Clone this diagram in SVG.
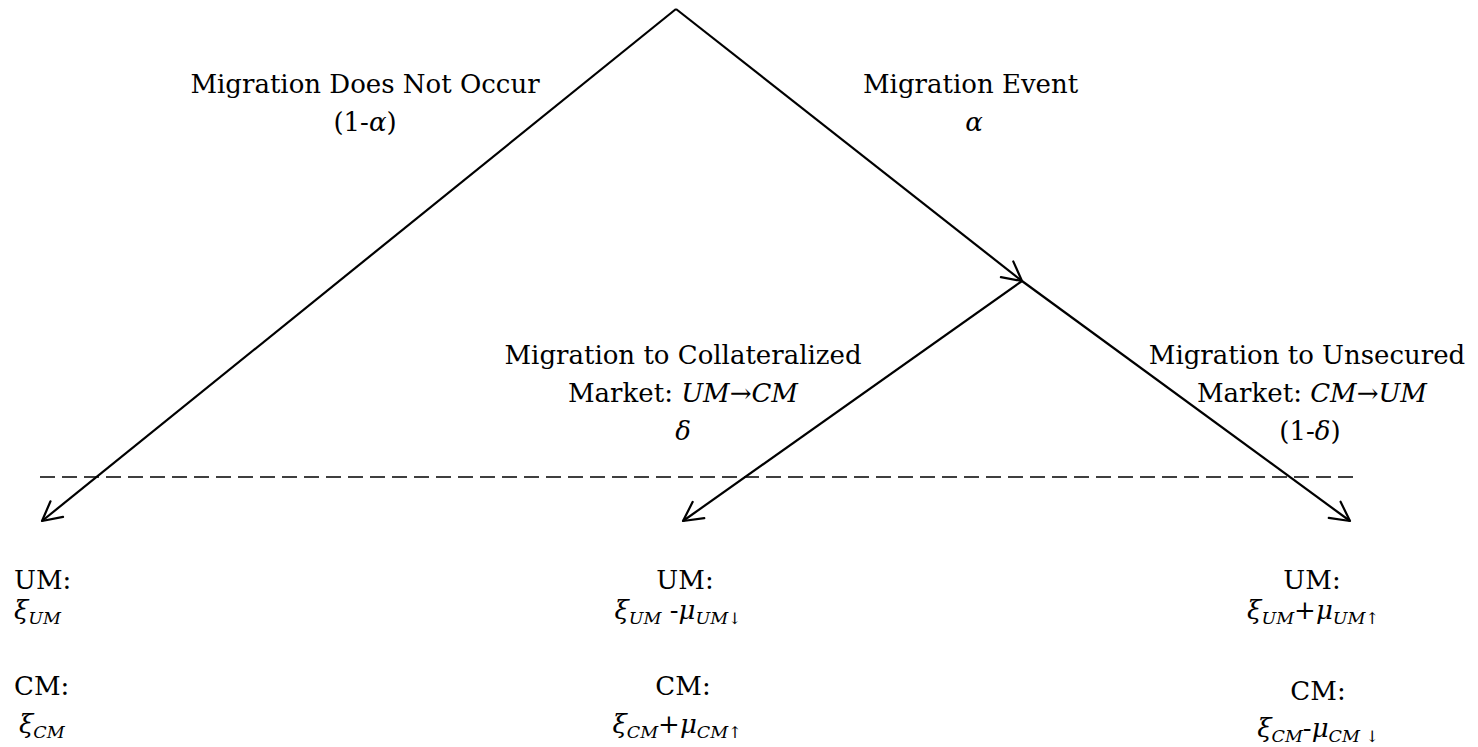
<svg xmlns="http://www.w3.org/2000/svg" width="1478" height="747" viewBox="0 0 1478 747">
<style>
text{font-family:"DejaVu Serif","Liberation Serif",serif;font-size:26px;fill:#000}
.i{font-style:italic}
.s{font-style:italic;font-size:17.5px}
.ar{font-size:16px;font-style:normal}
.ln{stroke:#000;stroke-width:2.2;fill:none;marker-end:url(#ah)}
.dash{stroke:#000;stroke-width:1.7;stroke-dasharray:15 7;fill:none}
</style>
<defs>
<marker id="ah" markerUnits="userSpaceOnUse" markerWidth="40" markerHeight="40" viewBox="-30 -20 40 40" refX="0" refY="0" orient="auto" overflow="visible">
<path d="M-19,-10 L0,0 L-19,10" fill="none" stroke="#000" stroke-width="2.2" stroke-linecap="round" stroke-linejoin="round"/>
</marker>
</defs>
<rect width="1478" height="747" fill="#fff"/>
<g id="connectors">
<line class="ln" x1="676" y1="9" x2="42" y2="521"/>
<line class="ln" x1="676" y1="9" x2="1022" y2="281"/>
<line class="ln" x1="1022" y1="281" x2="683" y2="521"/>
<line class="ln" x1="1022" y1="281" x2="1350" y2="521"/>
<line class="dash" x1="40" y1="477" x2="1356" y2="477"/>
</g>
<g id="label-no-migration">
<text x="365" y="93" text-anchor="middle">Migration Does Not Occur</text>
<text x="365" y="131" text-anchor="middle">(1-<tspan class="i">α</tspan>)</text>
</g>
<g id="label-migration-event">
<text x="863" y="93">Migration Event</text>
<text x="974" y="131" text-anchor="middle" class="i">α</text>
</g>
<g id="label-to-collateralized">
<text x="683" y="364" text-anchor="middle">Migration to Collateralized</text>
<text x="683" y="402" text-anchor="middle">Market: <tspan class="i">UM→CM</tspan></text>
<text x="683" y="440" text-anchor="middle" class="i">δ</text>
</g>
<g id="label-to-unsecured">
<text x="1307" y="364" text-anchor="middle">Migration to Unsecured</text>
<text x="1312" y="402" text-anchor="middle">Market: <tspan class="i">CM→UM</tspan></text>
<text x="1310" y="440" text-anchor="middle">(1-<tspan class="i">δ</tspan>)</text>
</g>
<g id="outcome-left">
<text x="14" y="589">UM:</text>
<text x="14" y="619"><tspan class="i">ξ</tspan><tspan class="s" dy="5">UM</tspan></text>
<text x="14" y="695">CM:</text>
<text x="19" y="733"><tspan class="i">ξ</tspan><tspan class="s" dy="5">CM</tspan></text>
</g>
<g id="outcome-middle">
<text x="685" y="589" text-anchor="middle">UM:</text>
<text x="678" y="619" text-anchor="middle"><tspan class="i">ξ</tspan><tspan class="s" dy="5">UM</tspan><tspan dy="-5"> -</tspan><tspan class="i">μ</tspan><tspan class="s" dy="5">UM</tspan><tspan class="ar">↓</tspan></text>
<text x="683" y="695" text-anchor="middle">CM:</text>
<text x="677" y="733" text-anchor="middle"><tspan class="i">ξ</tspan><tspan class="s" dy="5">CM</tspan><tspan dy="-5">+</tspan><tspan class="i">μ</tspan><tspan class="s" dy="5">CM</tspan><tspan class="ar">↑</tspan></text>
</g>
<g id="outcome-right">
<text x="1312" y="589" text-anchor="middle">UM:</text>
<text x="1313" y="619" text-anchor="middle"><tspan class="i">ξ</tspan><tspan class="s" dy="5">UM</tspan><tspan dy="-5">+</tspan><tspan class="i">μ</tspan><tspan class="s" dy="5">UM</tspan><tspan class="ar">↑</tspan></text>
<text x="1318" y="700" text-anchor="middle">CM:</text>
<text x="1318" y="737" text-anchor="middle"><tspan class="i">ξ</tspan><tspan class="s" dy="5">CM</tspan><tspan dy="-5">-</tspan><tspan class="i">μ</tspan><tspan class="s" dy="5">CM </tspan><tspan class="ar">↓</tspan></text>
</g>
</svg>
